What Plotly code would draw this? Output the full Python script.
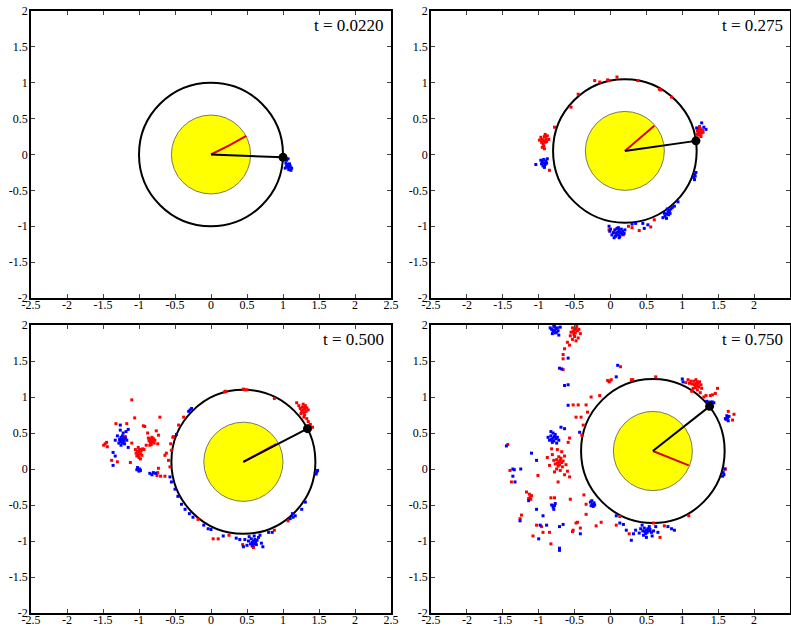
import plotly.graph_objects as go

# ---------------- data ----------------
panel_titles = ["t = 0.0220", "t = 0.275", "t = 0.500", "t = 0.750"]
orbit_cx = [0.0, 0.20, 0.45, 0.59]
orbit_cy = [0.0, 0.05, 0.10, 0.25]
orbit_r = [1.0, 1.0, 1.0, 1.0]
core_r = [0.55, 0.55, 0.55, 0.55]
arm_end_x = [1.00, 1.19, 1.34, 1.38]
arm_end_y = [-0.04, 0.19, 0.56, 0.87]
red_arm_x = [[0.26, 0.49], [0.61], [0.91], [1.09]]
red_arm_y = [[0.13, 0.26], [0.40], [0.35], [0.05]]

x_ticks = [-2.5, -2, -1.5, -1, -0.5, 0, 0.5, 1, 1.5, 2, 2.5]
x_tick_text = ["-2.5", "-2", "-1.5", "-1", "-0.5", "0", "0.5", "1", "1.5", "2", "2.5"]
y_ticks = [-2, -1.5, -1, -0.5, 0, 0.5, 1, 1.5, 2]
y_tick_text = ["-2", "-1.5", "-1", "-0.5", "0", "0.5", "1", "1.5", "2"]

blue_1 = [(1.05,-0.08),(1.07,-0.06),(1.04,-0.12),(1.06,-0.14),(1.08,-0.15),(1.09,-0.17),(1.07,-0.18),
          (1.10,-0.16),(1.12,-0.19),(1.03,-0.19),(1.08,-0.21),(1.11,-0.22),(1.05,-0.16),(1.09,-0.13)]
red_1 = []

red_2 = [(1.22,0.30),(1.24,0.32),(1.26,0.33),(1.23,0.35),(1.25,0.28),(1.27,0.30),(1.21,0.33),(1.25,0.36),
         (1.28,0.34),(1.23,0.27),(1.26,0.25),(1.20,0.28),(1.29,0.31),(1.24,0.39),
         (-0.93,0.19),(-0.95,0.21),(-0.91,0.17),(-0.94,0.15),(-0.90,0.22),(-0.92,0.25),(-0.96,0.17),
         (-0.89,0.18),(-0.93,0.12),(-0.97,0.24),(-0.91,0.28),(-0.88,0.26),(-0.95,0.10),(-0.86,0.21),
         (-0.99,0.20),(-0.92,0.08),
         (-0.45,0.84),(-0.22,1.03),(-0.15,1.01),(-0.04,1.04),(-0.02,1.03),(0.09,1.08),(0.38,1.03),
         (0.68,0.91),(0.70,0.90),(0.85,0.80),(-0.78,0.38),(-0.55,0.66),
         (0.61,-0.91),(0.56,-1.01),(0.40,-1.06),(0.25,-1.00),(0.05,-1.08),(0.18,-1.12),(-0.02,-1.05),
         (0.30,-1.02),(-0.85,-0.22)]
blue_2 = [(1.30,0.38),(1.27,0.44),(1.33,0.35),(1.20,0.37),
          (-0.93,-0.12),(-0.95,-0.10),(-0.91,-0.14),(-0.94,-0.16),(-0.90,-0.09),(-0.92,-0.18),
          (-0.96,-0.13),(-0.89,-0.12),(-0.97,-0.08),(-1.04,-0.14),(-0.88,-0.06),(-0.93,-0.07),
          (1.17,-0.27),(1.18,-0.30),(1.16,-0.32),(1.19,-0.25),(1.17,-0.35),
          (0.80,-0.80),(0.82,-0.78),(0.78,-0.83),(0.84,-0.76),(0.76,-0.86),(0.81,-0.84),(0.79,-0.76),
          (0.86,-0.74),(0.75,-0.82),(0.83,-0.82),(0.78,-0.89),(0.89,-0.72),(0.94,-0.66),(0.73,-0.88),
          (0.10,-1.08),(0.12,-1.06),(0.08,-1.10),(0.14,-1.09),(0.06,-1.05),(0.11,-1.12),(0.15,-1.04),
          (0.09,-1.03),(0.04,-1.09),(0.13,-1.14),(0.17,-1.07),(0.07,-1.14),(0.02,-1.12),(0.16,-1.11),
          (0.11,-1.02),(0.00,-1.04),(-0.02,-1.00),(0.05,-1.16),(0.19,-1.10),(0.12,-1.16),(-0.01,-1.07),
          (0.20,-1.05),
          (0.35,-0.96),(0.45,-0.96),(0.52,-0.98),(0.30,-0.97),(0.47,-1.03)]

red_3 = [(1.28,0.82),(1.30,0.84),(1.26,0.80),(1.32,0.80),(1.27,0.86),(1.29,0.78),(1.31,0.88),(1.24,0.84),
         (1.33,0.85),(1.25,0.77),(1.30,0.75),(1.35,0.82),(1.22,0.88),(1.28,0.90),(1.33,0.70),(1.35,0.66),
         (1.38,0.62),(1.41,0.58),(1.36,0.60),(1.19,0.92),(1.29,0.72),
         (0.47,1.10),(0.50,1.10),(0.45,1.11),(0.19,1.07),(0.20,1.08),(0.88,0.98),
         (-0.38,0.72),(-0.45,0.61),(-0.53,0.44),(-0.56,0.35),(-0.59,0.12),(-0.64,0.19),(-0.55,0.26),
         (-0.57,0.03),(-0.52,0.45),(-0.62,0.22),
         (-1.00,0.23),(-1.02,0.25),(-0.98,0.21),(-1.01,0.20),(-0.99,0.27),(-1.04,0.22),(-0.97,0.25),
         (-1.03,0.18),(-0.96,0.19),(-1.00,0.16),(-1.05,0.27),(-0.95,0.28),(-1.01,0.30),(-0.98,0.14),
         (-0.83,0.40),(-0.85,0.42),(-0.81,0.38),(-0.84,0.37),(-0.80,0.42),(-0.86,0.39),(-0.82,0.44),
         (-0.79,0.36),(-0.87,0.43),(-0.83,0.34),(-0.78,0.40),(-0.85,0.33),
         (-1.10,0.96),(-1.47,0.35),(-1.45,0.37),(-1.49,0.33),(-1.44,0.31),(-1.32,0.63),(-1.17,0.63),
         (-1.06,0.71),(-0.92,0.59),(-0.94,0.60),(-0.71,0.72),(-0.76,0.53),(-0.73,0.47),(-0.74,0.35),
         (-1.38,0.12),(-1.30,0.10),(-1.12,0.09),(-0.74,-0.05),(-0.73,0.01),(-0.75,-0.09),(-0.70,-0.10),
         (-0.64,-0.10),(-1.19,0.45),(-1.10,0.36),(-0.90,0.33),(-0.93,0.27),(-0.88,0.50),
         (0.03,-0.97),(0.10,-0.97),(0.59,-1.09),(0.57,-1.07),(-0.18,-0.70),(1.07,-0.72),(0.88,-0.85),
         (0.25,-0.92),(0.44,-1.05)]
blue_3 = [(-1.24,0.40),(-1.22,0.42),(-1.26,0.38),(-1.23,0.36),(-1.21,0.39),(-1.25,0.44),(-1.27,0.41),
          (-1.20,0.35),(-1.23,0.46),(-1.28,0.36),(-1.19,0.43),(-1.25,0.33),(-1.17,0.40),(-1.30,0.46),
          (-1.22,0.50),(-1.18,0.52),(-1.26,0.54),(-1.33,0.40),(-1.15,0.30),
          (-1.26,0.61),(-1.15,0.55),(-1.36,0.23),(-1.36,0.05),(-1.33,0.18),
          (-1.01,-0.01),(-0.99,0.00),(-1.02,0.02),(-1.00,-0.03),(-0.98,-0.02),(-1.03,-0.01),
          (-0.85,-0.06),(-0.80,-0.05),(-0.82,-0.08),(-0.77,-0.06),
          (-0.29,0.82),(-0.27,0.84),(-0.31,0.80),(-0.48,0.48),(-0.57,-0.11),(-0.55,-0.18),(-0.50,-0.28),
          (-0.46,-0.38),(-0.41,-0.49),(-0.36,-0.56),(-0.30,-0.62),(-0.25,-0.67),(-0.10,-0.78),
          (-0.04,-0.83),(0.00,-0.84),(0.17,-0.93),(0.35,-0.96),(0.40,-0.98),
          (0.59,-1.00),(0.61,-0.98),(0.57,-1.02),(0.60,-1.04),(0.62,-1.01),(0.56,-0.97),(0.58,-1.06),
          (0.64,-0.99),(0.55,-1.04),(0.63,-1.05),(0.52,-1.00),(0.66,-0.95),(0.50,-1.06),(0.70,-1.03),
          (0.47,-0.98),(0.68,-0.92),(0.53,-0.94),(0.72,-1.08),(0.60,-0.93),(0.45,-1.08),
          (1.14,-0.67),(1.17,-0.65),(1.10,-0.69),(1.26,-0.56),(1.31,-0.46),(1.47,-0.04),(1.46,-0.07),
          (1.48,-0.02),(1.13,-0.62),(0.80,-0.88),(0.85,-0.88)]

blue_4 = [(-0.78,1.93),(-0.76,1.95),(-0.80,1.91),(-0.77,1.89),(-0.74,1.96),(-0.82,1.94),(-0.79,1.98),
          (-0.75,1.90),(-0.73,1.92),(-0.81,1.88),(-0.70,1.97),(-0.84,1.96),(-0.72,1.86),(-0.78,1.99),
          (-0.59,1.54),(-0.71,1.40),(-0.68,1.39),(-0.64,1.16),(-0.59,1.17),(0.10,1.44),(0.08,1.28),
          (-0.59,0.885),(-0.43,0.51),(-0.69,0.58),(-0.64,0.56),
          (-0.80,0.43),(-0.78,0.45),(-0.82,0.41),(-0.79,0.39),(-0.76,0.42),(-0.83,0.46),(-0.81,0.37),
          (-0.77,0.48),(-0.85,0.40),(-0.74,0.44),(-0.80,0.50),(-0.87,0.44),(-0.75,0.36),(-0.83,0.52),
          (-0.72,0.40),
          (-1.45,0.32),(-1.10,0.22),(-1.03,0.12),(-1.36,0.00),(-1.34,-0.01),(-1.25,0.00),(-1.36,-0.10),
          (-1.33,-0.18),
          (-0.80,-0.53),(-0.78,-0.51),(-0.82,-0.50),(-0.79,-0.56),(-0.77,-0.48),
          (-1.14,-0.44),(-1.03,-0.56),(-0.94,-0.65),(-1.26,-0.72),(-0.98,-0.78),(-0.89,-0.78),
          (-1.00,-0.97),(-0.66,-0.77),(-0.71,-0.80),(-0.71,-1.10),(-0.71,-1.13),(-0.42,-0.90),
          (-0.25,-0.49),(-0.23,-0.47),(-0.27,-0.51),(-0.24,-0.52),(-0.22,-0.50),(-0.28,-0.46),(-0.26,-0.44),
          (0.50,-0.85),(0.52,-0.83),(0.48,-0.87),(0.51,-0.88),(0.53,-0.86),(0.47,-0.82),(0.49,-0.90),
          (0.55,-0.84),(0.45,-0.86),(0.54,-0.80),(0.46,-0.92),(0.57,-0.88),(0.42,-0.83),(0.60,-0.86),
          (0.50,-0.95),(0.40,-0.89),(0.63,-0.80),(0.44,-0.78),(0.35,-0.85),(0.58,-0.93),(0.66,-0.88),
          (0.32,-0.90),
          (0.13,-0.75),(0.18,-0.77),(0.08,-0.65),(0.29,-0.99),(0.22,-0.85),(0.85,-0.83),(0.89,-0.85),
          (0.80,-0.80),
          (1.00,1.25),(1.01,1.21),(1.36,0.93),(1.38,0.92),(1.40,0.93),(1.42,0.93),(1.44,0.92),(1.34,0.94),
          (1.63,0.71),(1.61,0.69),(1.65,0.73),(1.62,0.74),(1.64,0.67),(1.60,0.70),
          (1.57,-0.05),(1.58,-0.08),(1.59,0.00),(1.56,-0.10)]
red_4 = [(-0.50,1.93),(-0.48,1.95),(-0.52,1.91),(-0.49,1.89),(-0.46,1.92),(-0.53,1.96),(-0.51,1.87),
         (-0.47,1.98),(-0.55,1.90),(-0.44,1.94),(-0.50,1.84),(-0.42,1.88),(-0.56,1.85),(-0.45,1.82),
         (-0.53,1.80),(-0.48,1.78),(-0.60,1.76),(-0.57,1.72),
         (-0.64,1.67),(-0.66,1.59),(-0.66,1.53),(-0.66,1.38),(-0.27,1.00),(-0.15,1.02),(-0.02,1.21),
         (0.14,1.42),(-0.04,1.23),(-0.01,1.22),(0.01,1.24),(0.29,1.24),(0.31,1.24),(0.63,1.28),
         (-0.52,0.89),(-0.45,0.89),(-0.34,0.89),(-0.32,0.79),(-0.41,0.72),(-0.48,0.72),(-0.38,0.61),
         (-0.40,0.47),(-0.59,0.37),(-0.57,0.43),(-1.43,0.34),
         (-0.72,0.10),(-0.70,0.12),(-0.74,0.08),(-0.71,0.06),(-0.68,0.09),(-0.75,0.13),(-0.73,0.04),
         (-0.69,0.15),(-0.77,0.07),(-0.66,0.11),(-0.72,0.17),(-0.79,0.12),(-0.67,0.03),(-0.75,0.00),
         (-0.64,0.18),(-0.81,0.20),(-0.70,-0.02),(-0.62,0.06),(-0.85,0.05),(-0.68,0.24),(-0.78,-0.04),
         (-0.60,-0.03),(-0.88,0.16),(-0.64,-0.08),(-0.74,0.27),(-0.82,0.28),
         (-1.01,-0.09),(-0.73,-0.18),(-0.57,-0.11),(-1.38,-0.18),(-1.40,-0.02),
         (-1.12,-0.39),(-1.10,-0.37),(-1.14,-0.41),(-1.11,-0.42),(-1.13,-0.35),(-1.17,-0.32),
         (-0.78,-0.40),(-0.83,-0.40),(-0.56,-0.42),(-0.46,-0.74),(-0.52,-0.85),(-0.42,-0.82),
         (-0.20,-0.79),(-0.13,-0.74),(-1.26,-0.69),(-1.03,-0.78),(-0.96,-0.80),(-1.08,-0.93),
         (-0.94,-0.88),(-0.85,-0.88),(-0.83,-1.04),(-0.34,-0.49),(-0.34,-0.63),(-0.48,-0.75),
         (-0.53,-0.87),(-1.24,-0.64),(-0.37,-0.36),
         (1.19,1.19),(1.21,1.21),(1.17,1.17),(1.20,1.15),(1.22,1.18),(1.16,1.22),(1.18,1.13),(1.24,1.21),
         (1.14,1.18),(1.23,1.14),(1.19,1.24),(1.12,1.22),(1.26,1.17),(1.15,1.12),(1.10,1.19),(1.21,1.10),
         (1.08,1.24),(1.27,1.12),(1.13,1.08),(1.25,1.06),(1.05,1.20),
         (1.49,1.12),(1.46,1.05),(1.39,1.02),(1.33,1.02),(1.30,1.00),(1.42,1.03),
         (1.64,0.80),(1.70,0.68),(1.72,0.76),
         (0.13,-0.66),(0.26,-0.90),(0.75,-0.79),(0.60,-0.75),(0.69,-0.95),(1.09,-0.65),(0.08,-0.78),
         (1.60,0.00)]

red_sets = [red_1, red_2, red_3, red_4]
blue_sets = [blue_1, blue_2, blue_3, blue_4]

# ---------------- layout geometry ----------------
W, H = 791, 630
x_domains = [(31 / W, 391 / W), (431 / W, 790 / W)]
y_domains = [(1 - 298 / H, 1 - 11 / H), (1 - 613 / H, 1 - 325 / H)]
panel_pos = [(0, 0), (1, 0), (0, 1), (1, 1)]

fig = go.Figure()
layout = dict(width=W, height=H, margin=dict(l=0, r=0, t=0, b=0),
              paper_bgcolor="white", plot_bgcolor="white", showlegend=False,
              shapes=[], annotations=[])

SERIF = "Liberation Serif"
tick_font = dict(family=SERIF, size=12, color="black")

for i in range(4):
    col, row = panel_pos[i]
    sfx = "" if i == 0 else str(i + 1)
    xa, ya = "x" + sfx, "y" + sfx
    layout["xaxis" + sfx] = dict(domain=list(x_domains[col]), range=[-2.5, 2.5], anchor=ya,
                                 tickvals=x_ticks, ticktext=x_tick_text, ticks="inside", ticklen=4,
                                 tickcolor="#444", showline=True, linecolor="black", linewidth=1.5,
                                 mirror="ticks", showgrid=False, zeroline=False, tickfont=tick_font,
                                 ticklabelstandoff=-5,
                                 fixedrange=True, automargin=False)
    layout["yaxis" + sfx] = dict(domain=list(y_domains[row]), range=[-2, 2], anchor=xa,
                                 tickvals=y_ticks, ticktext=y_tick_text, ticks="inside", ticklen=4,
                                 tickcolor="#444", showline=True, linecolor="black", linewidth=1.5,
                                 mirror="ticks", showgrid=False, zeroline=False, tickfont=tick_font,
                                 ticklabelstandoff=-1,
                                 fixedrange=True, automargin=False)
    cx, cy = orbit_cx[i], orbit_cy[i]
    layout["shapes"].append(dict(type="circle", xref=xa, yref=ya, layer="below",
                                 x0=cx - core_r[i], x1=cx + core_r[i], y0=cy - core_r[i], y1=cy + core_r[i],
                                 fillcolor="#ffff00", line=dict(color="#7a7a5a", width=1)))
    layout["shapes"].append(dict(type="circle", xref=xa, yref=ya, layer="below",
                                 x0=cx - orbit_r[i], x1=cx + orbit_r[i], y0=cy - orbit_r[i], y1=cy + orbit_r[i],
                                 line=dict(color="black", width=2)))
    layout["annotations"].append(dict(text=panel_titles[i], xref=xa + " domain", yref=ya + " domain",
                                      x=0.985, y=0.99, xanchor="right", yanchor="top", showarrow=False,
                                      font=dict(family=SERIF, size=17, color="black")))
    # particles
    rs, bs = red_sets[i], blue_sets[i]
    if rs:
        fig.add_trace(go.Scatter(x=[p[0] for p in rs], y=[p[1] for p in rs], mode="markers",
                                 xaxis=xa, yaxis=ya, hoverinfo="skip",
                                 marker=dict(color="#ff0000", size=3, symbol="square", line=dict(width=0))))
    if bs:
        fig.add_trace(go.Scatter(x=[p[0] for p in bs], y=[p[1] for p in bs], mode="markers",
                                 xaxis=xa, yaxis=ya, hoverinfo="skip",
                                 marker=dict(color="#0000ff", size=3, symbol="square", line=dict(width=0))))
    # red arm
    fig.add_trace(go.Scatter(x=[cx] + red_arm_x[i], y=[cy] + red_arm_y[i], mode="lines",
                             xaxis=xa, yaxis=ya, hoverinfo="skip",
                             line=dict(color="#dd0000", width=2)))
    # black arm + body
    fig.add_trace(go.Scatter(x=[cx, arm_end_x[i]], y=[cy, arm_end_y[i]], mode="lines",
                             xaxis=xa, yaxis=ya, hoverinfo="skip",
                             line=dict(color="black", width=2)))
    fig.add_trace(go.Scatter(x=[arm_end_x[i]], y=[arm_end_y[i]], mode="markers",
                             xaxis=xa, yaxis=ya, hoverinfo="skip",
                             marker=dict(color="black", size=9)))

fig.update_layout(**layout)
fig.write_html("out.html")
